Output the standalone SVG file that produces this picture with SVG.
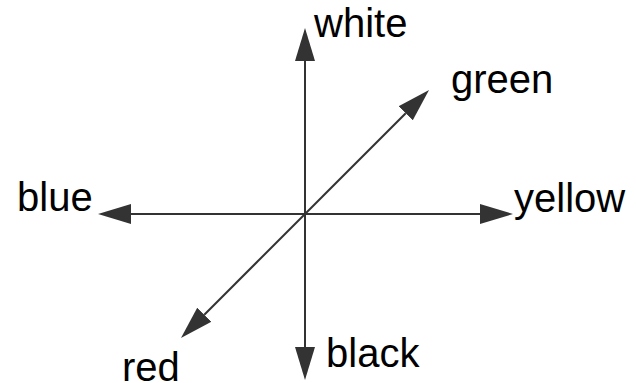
<svg xmlns="http://www.w3.org/2000/svg" width="636" height="383" viewBox="0 0 636 383">
<defs>
<style>
.ax{stroke:#333;stroke-width:2;fill:none;marker-end:url(#ah)}
.lb{font-family:"Liberation Sans",Arial,sans-serif;font-size:40px;fill:#000}
</style>
<marker id="ah" markerUnits="userSpaceOnUse" markerWidth="36" markerHeight="24" viewBox="0 -12 36 24" refX="0" refY="0" orient="auto">
<path d="M0,-10 L33,0 L0,10 Z" fill="#333"/>
</marker>
</defs>
<rect width="636" height="383" fill="#fff"/>
<g id="connectors">
<line class="ax" x1="305" y1="214" x2="305" y2="61"/>
<line class="ax" x1="305" y1="214" x2="305" y2="347"/>
<line class="ax" x1="305" y1="214" x2="131" y2="214"/>
<line class="ax" x1="305" y1="214" x2="480" y2="214"/>
<line class="ax" x1="305" y1="214" x2="405.7" y2="113.3"/>
<line class="ax" x1="305" y1="214" x2="204.3" y2="314.7"/>
</g>
<g id="white"><text class="lb" x="314" y="37">white</text></g>
<g id="green"><text class="lb" x="451" y="93">green</text></g>
<g id="blue"><text class="lb" x="17" y="211">blue</text></g>
<g id="yellow"><text class="lb" x="514" y="212">yellow</text></g>
<g id="black"><text class="lb" x="326" y="367">black</text></g>
<g id="red"><text class="lb" x="122" y="381">red</text></g>
</svg>
